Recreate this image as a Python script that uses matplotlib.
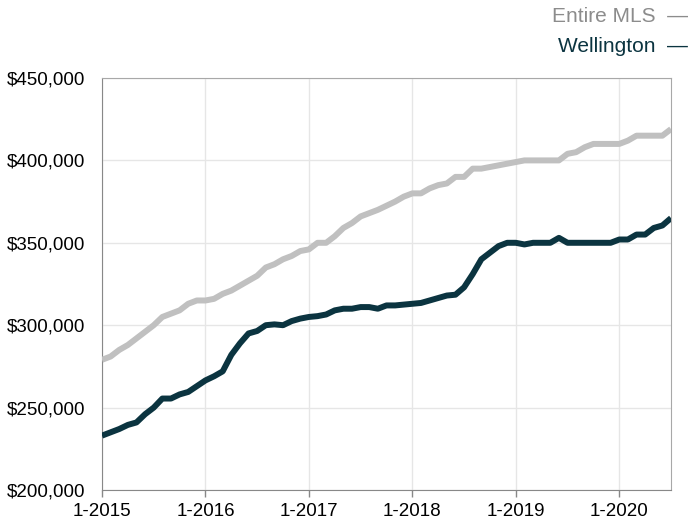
import numpy as np
import matplotlib.pyplot as plt
from matplotlib.ticker import FuncFormatter

plt.rcParams['font.family'] = ['Liberation Sans', 'DejaVu Sans']

# monthly rolling values, 1-2015 .. 7-2020, in $ thousands
entire_mls = [279, 281, 285, 288, 292, 296, 300, 305, 307, 309, 313, 315,
              315, 316, 319, 321, 324, 327, 330, 335, 337, 340, 342, 345,
              346, 350, 350, 354, 359, 362, 366, 368, 370, 372.5, 375, 378,
              380, 380, 383, 385, 386, 390, 390, 395, 395, 396, 397, 398,
              399, 400, 400, 400, 400, 400, 404, 405, 408, 410, 410, 410,
              410, 412, 415, 415, 415, 415, 419]
wellington = [233, 235, 237, 239.5, 241, 246, 250, 255.5, 255.5, 258, 259.5, 263,
              266.5, 269, 272, 282, 289, 295, 296.5, 300, 300.5, 300, 302.5, 304,
              305, 305.5, 306.5, 309, 310, 310, 311, 311, 310, 312, 312, 312.5,
              313, 313.5, 315, 316.5, 318, 318.5, 323, 331, 340, 344, 348, 350,
              350, 349, 350, 350, 350, 353, 350, 350, 350, 350, 350, 350,
              352, 352, 355, 355, 359, 360.5, 365]
tick_labels = ["1-2015", "1-2016", "1-2017", "1-2018", "1-2019", "1-2020"]

GRAY = '#c0c0c0'
DARK = '#0b3440'

months = np.arange(len(entire_mls))

fig = plt.figure(figsize=(6.89, 5.23), dpi=100)
ax = fig.add_axes([102 / 689, 33 / 523, 569 / 689, 412 / 523])

ax.plot(months, np.array(entire_mls) * 1000, color=GRAY, lw=4.3,
        solid_joinstyle='round', solid_capstyle='butt', zorder=3)
ax.plot(months, np.array(wellington) * 1000, color=DARK, lw=4.3,
        solid_joinstyle='round', solid_capstyle='butt', zorder=3)

ax.set_xlim(0, len(months) - 1)
ax.set_ylim(200000, 450000)
ax.set_xticks(np.arange(len(tick_labels)) * 12)
ax.set_xticklabels(tick_labels)
ax.set_yticks(np.arange(200000, 450001, 50000))
ax.yaxis.set_major_formatter(FuncFormatter(lambda v, _: f"${v:,.0f}"))

ax.grid(True, color='#e6e6e6', lw=1)
ax.set_axisbelow(True)
ax.tick_params(axis='y', length=0, pad=12, labelsize=13.5)
ax.tick_params(axis='x', length=5, width=1, color='#888888', pad=4, labelsize=13.5)
for side in ['left', 'bottom']:
    ax.spines[side].set_color('#888888')
for side in ['top', 'right']:
    ax.spines[side].set_color('#a8a8a8')

fig.text(688 / 689, 1 - 16 / 523, "Entire MLS  \u2014", ha='right', va='center',
         fontsize=15, color='#8c8c8c')
fig.text(688 / 689, 1 - 47 / 523, "Wellington  \u2014", ha='right', va='center',
         fontsize=15, color=DARK)

plt.savefig("out.png", dpi=100)
